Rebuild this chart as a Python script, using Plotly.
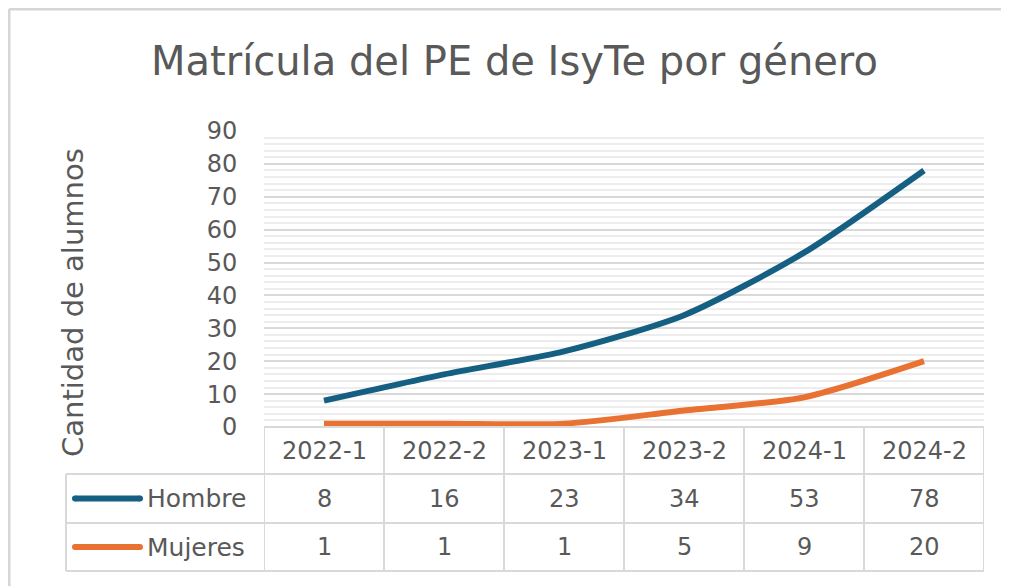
import plotly.graph_objects as go

# ---- data ----
categories = ["2022-1", "2022-2", "2023-1", "2023-2", "2024-1", "2024-2"]
hombre = [8, 16, 23, 34, 53, 78]
mujeres = [1, 1, 1, 5, 9, 20]
series_names = ["Hombre", "Mujeres"]
title_text = "Matrícula del PE de IsyTe por género"
y_title = "Cantidad de alumnos"

# ---- style ----
OFF = 8                      # page body margin of the browser
W, H = 1009 - OFF, 586 - OFF
FONT = "DejaVu Sans"
TXT = "#595959"
GRID = "#d9d9d9"
MINOR = "#ededed"
colors = ["#156082", "#E97132"]


def px_x(p):
    return (p - OFF) / W


def px_y(p):
    return 1 - (p - OFF) / H


plot_left, plot_right = 264, 984
plot_top, plot_bottom = 131, 427
row_lines = [474, 523, 571]
legend_left = 66

fig = go.Figure()
for name, vals, col in zip(series_names, [hombre, mujeres], colors):
    fig.add_trace(go.Scatter(
        x=categories, y=vals, name=name, mode="lines",
        line=dict(color=col, width=6, shape="spline", smoothing=0.7),
        showlegend=False, hoverinfo="skip"))

shapes = []
annotations = []

line_style = dict(color=GRID, width=2)
for i in range(len(categories) + 1):
    shapes.append(dict(type="line", xref="x", yref="paper",
                       x0=i - 0.5, x1=i - 0.5,
                       y0=px_y(plot_bottom), y1=px_y(row_lines[-1]),
                       line=line_style))
shapes.append(dict(type="line", xref="paper", yref="paper",
                   x0=px_x(plot_left), x1=px_x(plot_right),
                   y0=px_y(plot_bottom), y1=px_y(plot_bottom), line=line_style))
for ry in row_lines:
    shapes.append(dict(type="line", xref="paper", yref="paper",
                       x0=px_x(legend_left), x1=px_x(plot_right),
                       y0=px_y(ry), y1=px_y(ry), line=line_style))
shapes.append(dict(type="line", xref="paper", yref="paper",
                   x0=px_x(legend_left), x1=px_x(legend_left),
                   y0=px_y(row_lines[0]), y1=px_y(row_lines[-1]), line=line_style))

# outer chart border (top and left visible)
shapes.append(dict(type="line", xref="paper", yref="paper",
                   x0=px_x(9), x1=1.0, y0=px_y(9), y1=px_y(9),
                   line=dict(color="#d6d6d6", width=3)))
shapes.append(dict(type="line", xref="paper", yref="paper",
                   x0=px_x(9), x1=px_x(9), y0=px_y(9), y1=-0.05,
                   line=dict(color="#d6d6d6", width=3)))

hdr_y = (plot_bottom + row_lines[0]) / 2
for c in categories:
    annotations.append(dict(x=c, xref="x", y=px_y(hdr_y), yref="paper",
                            text=c, showarrow=False,
                            font=dict(family=FONT, size=24, color=TXT),
                            xanchor="center", yanchor="middle"))

row_centers = [(row_lines[0] + row_lines[1]) / 2, (row_lines[1] + row_lines[2]) / 2]
for name, vals, col, ry in zip(series_names, [hombre, mujeres], colors, row_centers):
    for c, v in zip(categories, vals):
        annotations.append(dict(x=c, xref="x", y=px_y(ry), yref="paper",
                                text=str(v), showarrow=False,
                                font=dict(family=FONT, size=24, color=TXT),
                                xanchor="center", yanchor="middle"))
    shapes.append(dict(type="line", xref="paper", yref="paper",
                       x0=px_x(75), x1=px_x(140), y0=px_y(ry), y1=px_y(ry),
                       line=dict(color=col, width=6)))
    for cx in (75, 140):
        shapes.append(dict(type="circle", xref="paper", yref="paper",
                           x0=px_x(cx - 3), x1=px_x(cx + 3),
                           y0=px_y(ry + 3), y1=px_y(ry - 3),
                           line=dict(width=0), fillcolor=col))
    annotations.append(dict(x=px_x(145), xref="paper", y=px_y(ry), yref="paper",
                            text=name, showarrow=False,
                            font=dict(family=FONT, size=25, color=TXT),
                            xanchor="left", yanchor="middle"))

annotations.append(dict(x=px_x(515), xref="paper", y=px_y(61), yref="paper",
                        text=title_text, showarrow=False,
                        font=dict(family=FONT, size=40, color=TXT),
                        xanchor="center", yanchor="middle"))
annotations.append(dict(x=px_x(73), xref="paper", y=px_y(303), yref="paper",
                        text=y_title, showarrow=False, textangle=-90,
                        font=dict(family=FONT, size=29, color=TXT),
                        xanchor="center", yanchor="middle"))

fig.update_layout(
    template="none",
    width=W, height=H,
    margin=dict(l=0, r=0, t=0, b=0, pad=0, autoexpand=False),
    paper_bgcolor="white", plot_bgcolor="white",
    shapes=shapes, annotations=annotations,
    xaxis=dict(domain=[px_x(plot_left), px_x(plot_right)], automargin=False,
               type="category", categoryorder="array", categoryarray=categories,
               range=[-0.5, len(categories) - 0.5],
               showticklabels=False, showgrid=False, zeroline=False,
               showline=False, ticks=""),
    yaxis=dict(domain=[px_y(plot_bottom), px_y(plot_top)], automargin=False,
               range=[0, 90], dtick=10, tick0=0,
               showgrid=True, gridcolor=GRID, gridwidth=2,
               zeroline=False, showline=False,
               ticks="outside", ticklen=21, tickcolor="rgba(0,0,0,0)",
               tickfont=dict(family=FONT, size=24, color=TXT),
               minor=dict(dtick=2, tick0=0, showgrid=True,
                          gridcolor=MINOR, gridwidth=2, ticks="")),
)

fig.write_html("out.html")
